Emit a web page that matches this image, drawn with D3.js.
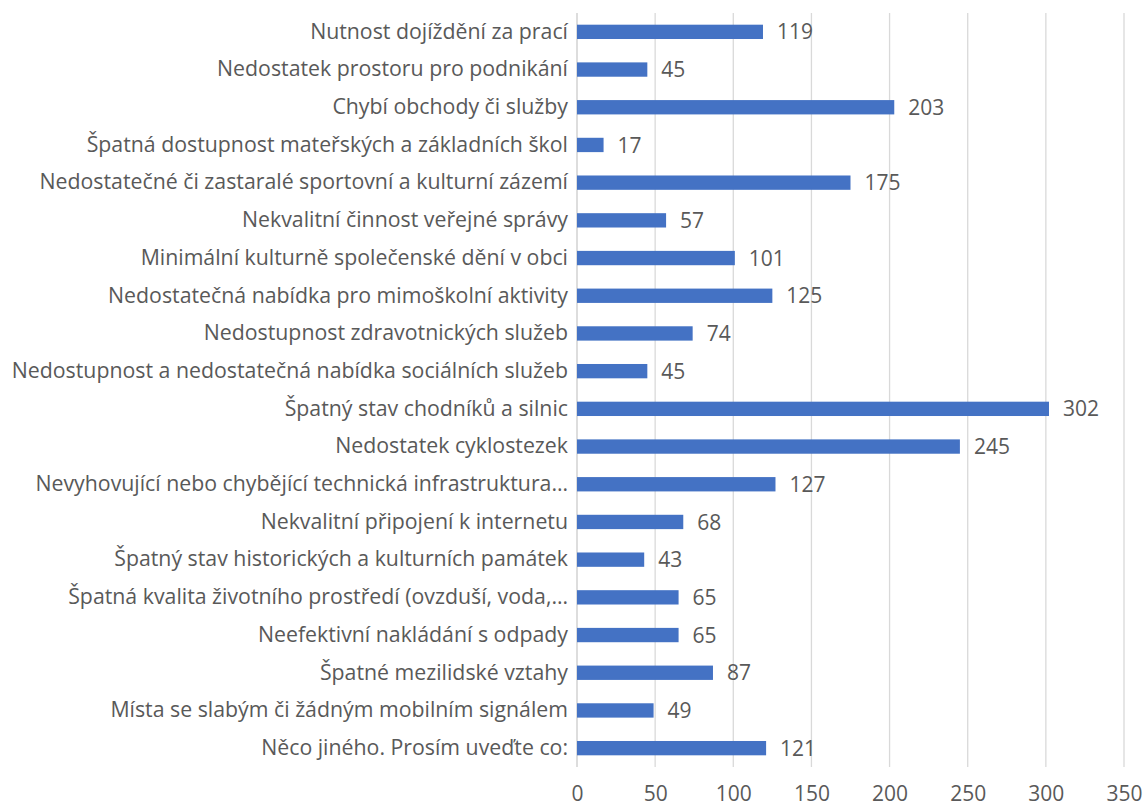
<!DOCTYPE html>
<html>
<head>
<meta charset="utf-8">
<title>Problémy v obci</title>
<script src="https://d3js.org/d3.v7.min.js"></script>
<style>
  body { margin: 0; background: #fff; }
  text { font-family: "Open Sans", Lato, sans-serif; fill: #595959; }
</style>
</head>
<body>
<div id="chart"></div>
<script>
// categories, top to bottom
const categories = [
  "Nutnost dojíždění za prací",
  "Nedostatek prostoru pro podnikání",
  "Chybí obchody či služby",
  "Špatná dostupnost mateřských a základních škol",
  "Nedostatečné či zastaralé sportovní a kulturní zázemí",
  "Nekvalitní činnost veřejné správy",
  "Minimální kulturně společenské dění v obci",
  "Nedostatečná nabídka pro mimoškolní aktivity",
  "Nedostupnost zdravotnických služeb",
  "Nedostupnost a nedostatečná nabídka sociálních služeb",
  "Špatný stav chodníků a silnic",
  "Nedostatek cyklostezek",
  "Nevyhovující nebo chybějící technická infrastruktura…",
  "Nekvalitní připojení k internetu",
  "Špatný stav historických a kulturních památek",
  "Špatná kvalita životního prostředí (ovzduší, voda,…",
  "Neefektivní nakládání s odpady",
  "Špatné mezilidské vztahy",
  "Místa se slabým či žádným mobilním signálem",
  "Něco jiného. Prosím uveďte co:"
];
const values = [119, 45, 203, 17, 175, 57, 101, 125, 74, 45, 302, 245, 127, 68, 43, 65, 65, 87, 49, 121];
const xTicks = [0, 50, 100, 150, 200, 250, 300, 350];

const width = 1143, height = 808;
const margin = { top: 13, right: 19, bottom: 41, left: 577 };
const labelSize = "21.3px";
const numSize = "21px";

const svg = d3.select("#chart").append("svg")
  .attr("width", width)
  .attr("height", height);

const x = d3.scaleLinear()
  .domain([0, 350])
  .range([margin.left, width - margin.right]);

const y = d3.scaleBand()
  .domain(categories)
  .range([margin.top, height - margin.bottom])
  .paddingInner(0.62)
  .paddingOuter(0.31);

// gridlines
svg.append("g")
  .selectAll("line")
  .data(xTicks)
  .join("line")
  .attr("x1", d => x(d))
  .attr("x2", d => x(d))
  .attr("y1", margin.top)
  .attr("y2", height - margin.bottom)
  .attr("stroke", "#d9d9d9")
  .attr("stroke-width", 1.3);

// x tick labels
const xAxis = svg.append("g")
  .attr("transform", "translate(0," + (height - margin.bottom) + ")")
  .call(d3.axisBottom(x).tickValues(xTicks).tickSize(0).tickPadding(19));
xAxis.select(".domain").remove();
xAxis.selectAll("text")
  .style("font-size", numSize)
  .style("font-family", "'Open Sans', sans-serif")
  .attr("fill", "#595959");

// category labels
const yAxis = svg.append("g")
  .attr("transform", "translate(" + margin.left + ",0)")
  .call(d3.axisLeft(y).tickSize(0).tickPadding(9));
yAxis.select(".domain").remove();
yAxis.selectAll("text")
  .style("font-size", labelSize)
  .style("font-family", "'Open Sans', sans-serif")
  .attr("fill", "#595959");

// axis line at zero
svg.append("line")
  .attr("x1", x(0)).attr("x2", x(0))
  .attr("y1", margin.top).attr("y2", height - margin.bottom)
  .attr("stroke", "#d9d9d9")
  .attr("stroke-width", 1.3);

// bars
svg.append("g")
  .selectAll("rect")
  .data(values)
  .join("rect")
  .attr("x", x(0))
  .attr("y", (d, i) => y(categories[i]))
  .attr("width", d => x(d) - x(0))
  .attr("height", y.bandwidth())
  .attr("fill", "#4472c4");

// value labels
svg.append("g")
  .selectAll("text")
  .data(values)
  .join("text")
  .attr("x", d => x(d) + 14)
  .attr("y", (d, i) => y(categories[i]) + y.bandwidth() / 2)
  .attr("dy", "0.36em")
  .style("font-size", numSize)
  .text(d => d);
</script>
</body>
</html>
